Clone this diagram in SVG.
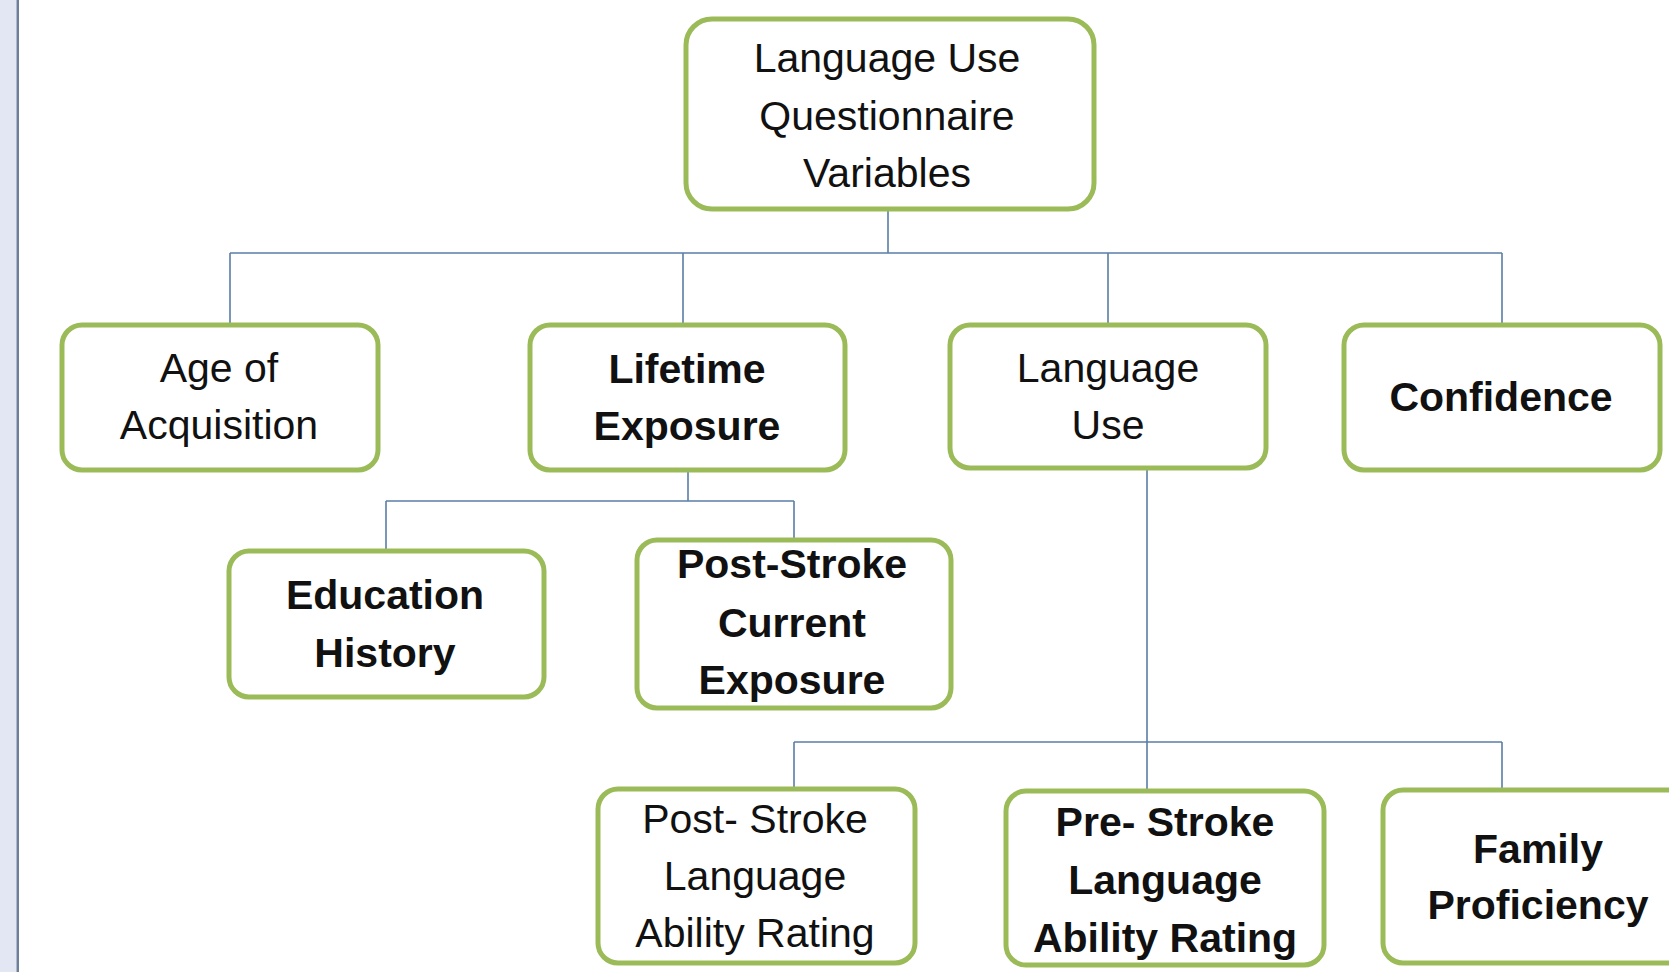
<svg xmlns="http://www.w3.org/2000/svg" width="1669" height="972" viewBox="0 0 1669 972">
<style>
.box{fill:#ffffff;stroke:#9bbb59;stroke-width:5}
.t{font-family:"Liberation Sans",Arial,sans-serif;font-size:41px;fill:#111111;text-anchor:middle}
.b{font-weight:bold}
.c{fill:none;stroke:#5b7ea6;stroke-width:1.6}
</style>
<rect x="0" y="0" width="1669" height="972" fill="#ffffff"/>
<rect x="0" y="0" width="16.5" height="972" fill="#e3e7f3"/>
<rect x="16.5" y="0" width="2.5" height="972" fill="#6e7f99"/>
<g id="connectors">
<path class="c" d="M888 210 V253 M230 253 H1502 M230 253 V325 M683 253 V325 M1108 253 V325 M1502 253 V325"/>
<path class="c" d="M688 470 V501 M386 501 H794 M386 501 V551 M794 501 V540"/>
<path class="c" d="M1147 468 V742 M794 742 H1502 M794 742 V789 M1147 742 V791 M1502 742 V790"/>
</g>
<g id="root">
<rect class="box" x="686" y="19" width="408" height="190" rx="26"/>
<text class="t" x="887" y="72">Language Use</text>
<text class="t" x="887" y="130">Questionnaire</text>
<text class="t" x="887" y="187">Variables</text>
</g>
<g id="age">
<rect class="box" x="62" y="325" width="316" height="145" rx="20"/>
<text class="t" x="219" y="382">Age of</text>
<text class="t" x="219" y="439">Acquisition</text>
</g>
<g id="lifetime">
<rect class="box" x="530" y="325" width="315" height="145" rx="20"/>
<text class="t b" x="687" y="383">Lifetime</text>
<text class="t b" x="687" y="440">Exposure</text>
</g>
<g id="languse">
<rect class="box" x="950" y="325" width="316" height="143" rx="20"/>
<text class="t" x="1108" y="382">Language</text>
<text class="t" x="1108" y="439">Use</text>
</g>
<g id="confidence">
<rect class="box" x="1344" y="325" width="316" height="145" rx="20"/>
<text class="t b" x="1501" y="411">Confidence</text>
</g>
<g id="education">
<rect class="box" x="229" y="551" width="315" height="146" rx="20"/>
<text class="t b" x="385" y="609">Education</text>
<text class="t b" x="385" y="667">History</text>
</g>
<g id="postcurrent">
<rect class="box" x="637" y="540" width="314" height="168" rx="20"/>
<text class="t b" x="792" y="578">Post-Stroke</text>
<text class="t b" x="792" y="637">Current</text>
<text class="t b" x="792" y="694">Exposure</text>
</g>
<g id="postrating">
<rect class="box" x="598" y="789" width="317" height="174" rx="20"/>
<text class="t" x="755" y="833">Post- Stroke</text>
<text class="t" x="755" y="890">Language</text>
<text class="t" x="755" y="947">Ability Rating</text>
</g>
<g id="prerating">
<rect class="box" x="1006" y="791" width="318" height="174" rx="20"/>
<text class="t b" x="1165" y="836">Pre- Stroke</text>
<text class="t b" x="1165" y="894">Language</text>
<text class="t b" x="1165" y="952">Ability Rating</text>
</g>
<g id="family">
<rect class="box" x="1383" y="790" width="316" height="173" rx="20"/>
<text class="t b" x="1538" y="863">Family</text>
<text class="t b" x="1538" y="919">Proficiency</text>
</g>
</svg>
